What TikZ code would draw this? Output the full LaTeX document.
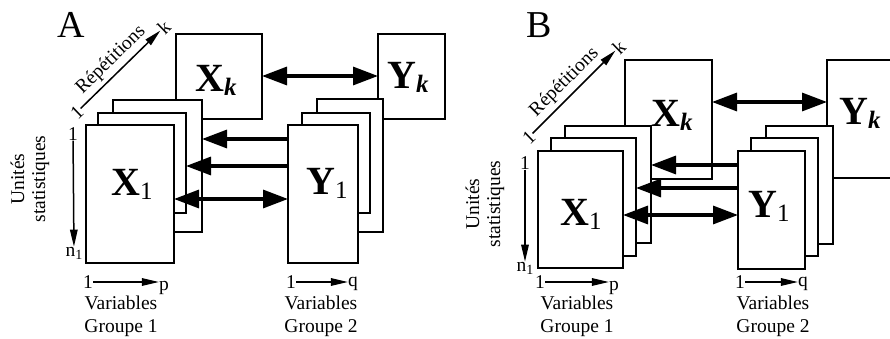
\documentclass[tikz,border=0pt]{standalone}
\usepackage{fontspec}
\setmainfont{Liberation Serif}
\usetikzlibrary{arrows.meta}
\newcommand\subone{\raisebox{-4pt}{\fontsize{25}{25}\selectfont\mdseries 1}}
\newcommand\subk{\raisebox{-4pt}{\fontsize{25}{25}\selectfont\bfseries\itshape k}}
\newcommand\subn{\raisebox{-3pt}{\fontsize{14}{14}\selectfont 1}}
\begin{document}
\begin{tikzpicture}[x=1pt,y=-1pt,
 box/.style={draw, line width=1.8pt, fill=white, inner sep=0pt, outer sep=0pt, anchor=north west},
 big/.style={line width=3.2pt, -{Triangle[length=25pt,width=18pt]}},
 bigdbl/.style={line width=3.2pt, {Triangle[length=25pt,width=18pt]}-{Triangle[length=25pt,width=18pt]}},
 sm/.style={line width=1.5pt, -{Triangle[length=17pt,width=7.5pt]}},
 txt/.style={font=\fontsize{19.5}{21}\selectfont, inner sep=0pt},
 lbl/.style={font=\fontsize{40}{40}\selectfont\bfseries, inner sep=0pt},
 letter/.style={font=\fontsize{38}{38}\selectfont, inner sep=0pt}]
\useasboundingbox (0,0) rectangle (890,339);
\clip (0,0) rectangle (890,339);

% ---------------- Panel A ----------------
\node[letter] (A) at (71,25) {A};
\node[box, minimum width=86pt, minimum height=85pt] (XAk) at (176,34) {};
\node[box, minimum width=67pt, minimum height=85pt] (YAk) at (378,34) {};
\node[box, minimum width=89pt, minimum height=132pt] (XA3) at (113,100) {};
\node[box, minimum width=88pt, minimum height=100pt] (XA2) at (98,113) {};
\node[box, minimum width=88pt, minimum height=138pt] (XA1) at (86,125) {};
\node[box, minimum width=66pt, minimum height=133pt] (YA3) at (317,99) {};
\node[box, minimum width=68pt, minimum height=100pt] (YA2) at (302,113) {};
\node[box, minimum width=70pt, minimum height=138pt] (YA1) at (288,125) {};

\node[lbl] (lXAk) at (216,80) {X\subk};
\node[lbl] (lYAk) at (408,77) {Y\subk};
\node[lbl] (lXA1) at (132,184) {X\subone};
\node[lbl] (lYA1) at (327,183) {Y\subone};

\draw[big] (YA1.west |- 0,139) -- (XA3.east |- 0,139);
\draw[big] (YA1.west |- 0,166) -- (XA2.east |- 0,166);
\draw[bigdbl] (XA1.east |- 0,199) -- (YA1.west |- 0,199);
\draw[bigdbl] (XAk.east |- 0,76) -- (YAk.west |- 0,76);

\node[txt, rotate=44] (rA1) at (77,112) {1};
\node[txt, rotate=44] (rAk) at (164,27) {k};
\draw[sm] (rA1) -- (rAk) node[midway, sloped, above=4pt, txt] (rAt) {Répétitions};

\node[txt, rotate=90, align=center] (uA) at (30,179) {Unités\\statistiques};
\node[txt] (dA1) at (73,134) {1};
\node[txt] (dAn) at (74,253) {n\subn};
\draw[sm] (dA1) -- (dAn);

\node[txt] (pA1) at (88,282) {1};
\node[txt] (pAp) at (164,288) {p};
\draw[sm] (pA1.east) -- (pA1.east -| pAp.west);
\node[txt, align=center] (gA1) at (121,316) {Variables\\[2pt]Groupe 1};

\node[txt] (qA1) at (291,282) {1};
\node[txt] (qAq) at (353,284) {q};
\draw[sm] (qA1.east) -- (qA1.east -| qAq.west);
\node[txt, align=center] (gA2) at (321,316) {Variables\\[2pt]Groupe 2};

% ---------------- Panel B ----------------
\node[letter] (B) at (539,25) {B};
\node[box, minimum width=87pt, minimum height=119pt] (XBk) at (625,60) {};
\node[box, minimum width=90pt, minimum height=118pt] (YBk) at (827,60) {};
\node[box, minimum width=86pt, minimum height=117pt] (XB3) at (565,126) {};
\node[box, minimum width=85pt, minimum height=118pt] (XB2) at (551,138) {};
\node[box, minimum width=85pt, minimum height=117pt] (XB1) at (538,151) {};
\node[box, minimum width=67pt, minimum height=118pt] (YB3) at (766,126) {};
\node[box, minimum width=67pt, minimum height=118pt] (YB2) at (751,138) {};
\node[box, minimum width=67pt, minimum height=118pt] (YB1) at (738,151) {};

\node[lbl] (lXBk) at (672,115) {X\subk};
\node[lbl] (lYBk) at (860,113) {Y\subk};
\node[lbl] (lXB1) at (581,214) {X\subone};
\node[lbl] (lYB1) at (769,206) {Y\subone};

\draw[big] (YB1.west |- 0,165) -- (XB3.east |- 0,165);
\draw[big] (YB1.west |- 0,188) -- (XB2.east |- 0,188);
\draw[bigdbl] (XB1.east |- 0,215) -- (YB1.west |- 0,215);
\draw[bigdbl] (XBk.east |- 0,102) -- (YBk.west |- 0,102);

\node[txt, rotate=44] (rB1) at (529,137) {1};
\node[txt, rotate=44] (rBk) at (619,47) {k};
\draw[sm] (rB1) -- (rBk) node[midway, sloped, above=4pt, txt] (rBt) {Répétitions};

\node[txt, rotate=90, align=center] (uB) at (485,204) {Unités\\statistiques};
\node[txt] (dB1) at (525,163) {1};
\node[txt] (dBn) at (525,268) {n\subn};
\draw[sm] (dB1) -- (dBn);

\node[txt] (pB1) at (540,282) {1};
\node[txt] (pBp) at (614,288) {p};
\draw[sm] (pB1.east) -- (pB1.east -| pBp.west);
\node[txt, align=center] (gB1) at (577,316) {Variables\\[2pt]Groupe 1};

\node[txt] (qB1) at (740,282) {1};
\node[txt] (qBq) at (803,284) {q};
\draw[sm] (qB1.east) -- (qB1.east -| qBq.west);
\node[txt, align=center] (gB2) at (773,316) {Variables\\[2pt]Groupe 2};
\end{tikzpicture}
\end{document}
